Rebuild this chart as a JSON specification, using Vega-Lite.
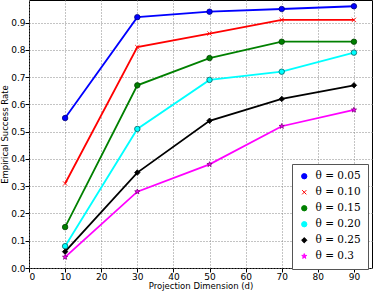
{
  "$schema": "https://vega.github.io/schema/vega-lite/v6.json",
  "width": 343,
  "height": 268,
  "autosize": "none",
  "padding": {"left": 29, "top": 0, "right": 2, "bottom": 23},
  "background": "white",
  "config": {
    "view": {"stroke": "black", "strokeWidth": 1},
    "font": "DejaVu Sans",
    "axis": {
      "gridColor": "#888",
      "gridDash": [1, 2],
      "gridOpacity": 1,
      "domain": false,
      "tickColor": "black",
      "tickSize": 4,
      "tickDirection": "in",
      "labelFontSize": 9,
      "labelColor": "black",
      "titleFontSize": 8.5,
      "titleFontWeight": "normal",
      "titleColor": "black"
    }
  },
  "data": {
    "values": [
      {"d": 10, "rate": 0.55, "theta": "θ = 0.05"},
      {"d": 30, "rate": 0.92, "theta": "θ = 0.05"},
      {"d": 50, "rate": 0.94, "theta": "θ = 0.05"},
      {"d": 70, "rate": 0.95, "theta": "θ = 0.05"},
      {"d": 90, "rate": 0.96, "theta": "θ = 0.05"},
      {"d": 10, "rate": 0.31, "theta": "θ = 0.10"},
      {"d": 30, "rate": 0.81, "theta": "θ = 0.10"},
      {"d": 50, "rate": 0.86, "theta": "θ = 0.10"},
      {"d": 70, "rate": 0.91, "theta": "θ = 0.10"},
      {"d": 90, "rate": 0.91, "theta": "θ = 0.10"},
      {"d": 10, "rate": 0.15, "theta": "θ = 0.15"},
      {"d": 30, "rate": 0.67, "theta": "θ = 0.15"},
      {"d": 50, "rate": 0.77, "theta": "θ = 0.15"},
      {"d": 70, "rate": 0.83, "theta": "θ = 0.15"},
      {"d": 90, "rate": 0.83, "theta": "θ = 0.15"},
      {"d": 10, "rate": 0.08, "theta": "θ = 0.20"},
      {"d": 30, "rate": 0.51, "theta": "θ = 0.20"},
      {"d": 50, "rate": 0.69, "theta": "θ = 0.20"},
      {"d": 70, "rate": 0.72, "theta": "θ = 0.20"},
      {"d": 90, "rate": 0.79, "theta": "θ = 0.20"},
      {"d": 10, "rate": 0.06, "theta": "θ = 0.25"},
      {"d": 30, "rate": 0.35, "theta": "θ = 0.25"},
      {"d": 50, "rate": 0.54, "theta": "θ = 0.25"},
      {"d": 70, "rate": 0.62, "theta": "θ = 0.25"},
      {"d": 90, "rate": 0.67, "theta": "θ = 0.25"},
      {"d": 10, "rate": 0.04, "theta": "θ = 0.3"},
      {"d": 30, "rate": 0.28, "theta": "θ = 0.3"},
      {"d": 50, "rate": 0.38, "theta": "θ = 0.3"},
      {"d": 70, "rate": 0.52, "theta": "θ = 0.3"},
      {"d": 90, "rate": 0.58, "theta": "θ = 0.3"}
    ]
  },
  "encoding": {
    "x": {
      "field": "d", "type": "quantitative",
      "scale": {"domain": [0, 95], "nice": false},
      "axis": {"values": [0, 10, 20, 30, 40, 50, 60, 70, 80, 90], "title": "Projection Dimension (d)", "titlePadding": 0, "labelPadding": 0}
    },
    "y": {
      "field": "rate", "type": "quantitative",
      "scale": {"domain": [0, 0.983], "nice": false},
      "axis": {"values": [0, 0.1, 0.2, 0.3, 0.4, 0.5, 0.6, 0.7, 0.8, 0.9], "format": ".1f", "title": "Empirical Success Rate", "titlePadding": 1, "labelPadding": 0}
    },
    "color": {
      "field": "theta", "type": "nominal",
      "scale": {
        "domain": ["θ = 0.05", "θ = 0.10", "θ = 0.15", "θ = 0.20", "θ = 0.25", "θ = 0.3"],
        "range": ["#0000ff", "#ff0000", "#008000", "#00ffff", "#000000", "#ff00ff"]
      },
      "legend": {
        "title": null,
        "orient": "none",
        "legendX": 263,
        "legendY": 164,
        "fillColor": "white",
        "strokeColor": "#555",
        "padding": 7,
        "labelFont": "DejaVu Serif",
        "labelFontSize": 10.5,
        "labelColor": "black",
        "labelOffset": 6,
        "rowPadding": 5,
        "symbolSize": 28,
        "symbolStrokeWidth": 1
      }
    }
  },
  "layer": [
    {
      "mark": {"type": "line", "strokeWidth": 1.8}
    },
    {
      "mark": {"type": "point", "filled": true, "size": 30, "opacity": 1, "strokeWidth": 0.8},
      "encoding": {
        "shape": {
          "field": "theta", "type": "nominal",
          "scale": {
            "domain": ["θ = 0.05", "θ = 0.10", "θ = 0.15", "θ = 0.20", "θ = 0.25", "θ = 0.3"],
            "range": ["circle", "M-0.8,-0.8L0.8,0.8M-0.8,0.8L0.8,-0.8", "circle", "circle", "diamond", "M0,-1L0.24,-0.32L0.95,-0.31L0.38,0.12L0.59,0.81L0,0.4L-0.59,0.81L-0.38,0.12L-0.95,-0.31L-0.24,-0.32Z"]
          }
        },
        "stroke": {
          "field": "theta", "type": "nominal",
          "scale": {
            "domain": ["θ = 0.05", "θ = 0.10", "θ = 0.15", "θ = 0.20", "θ = 0.25", "θ = 0.3"],
            "range": ["#000080", "#ff0000", "#004000", "#006060", "#000000", "#800080"]
          },
          "legend": null
        }
      }
    }
  ]
}
